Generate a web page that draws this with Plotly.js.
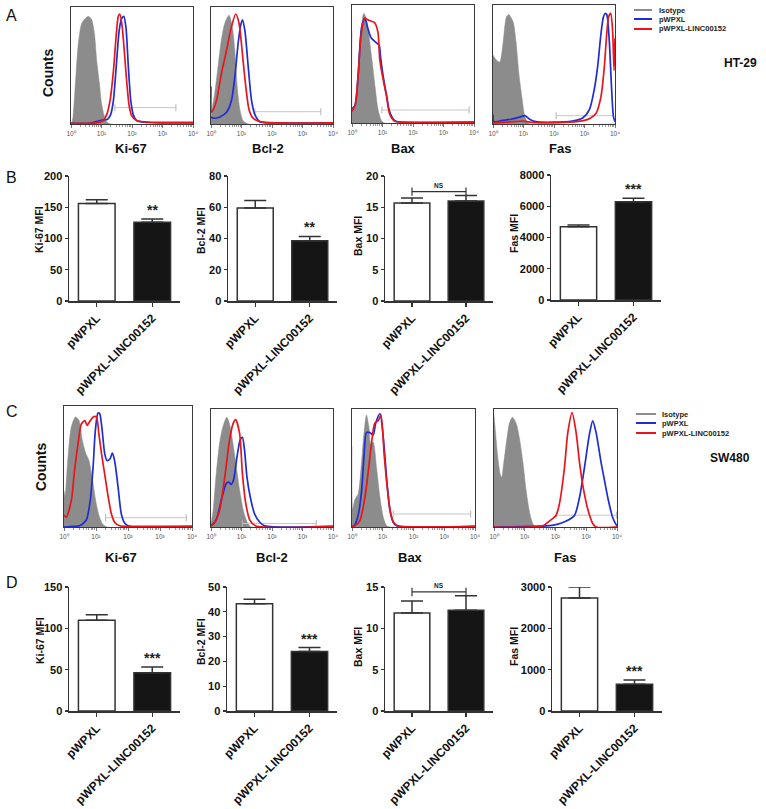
<!DOCTYPE html>
<html><head><meta charset="utf-8">
<script src="https://cdn.plot.ly/plotly-3.0.1.min.js"></script>
<style>html,body{margin:0;padding:0;background:#fff}#chart{width:766px;height:809px}</style>
</head><body><div id="chart"></div>
<script>
// ================= DATA =================
const markers = ['Ki-67', 'Bcl-2', 'Bax', 'Fas'];
const groups = ['pWPXL', 'pWPXL-LINC00152'];
const seriesNames = ['Isotype', 'pWPXL', 'pWPXL-LINC00152'];
const cellLines = ['HT-29', 'SW480'];
const decadeTicks = [0, 1, 2, 3, 4];
const decadeLabels = ['10\u2070', '10\u00B9', '10\u00B2', '10\u00B3', '10\u2074'];

// Flow histograms: [log10 fluorescence, % of max count]
// HT-29
const htKi67Iso  = [[0,0],[0.05,3],[0.13,29],[0.24,69],[0.35,86],[0.46,90],[0.57,92],[0.68,89],[0.77,77],[0.84,55],[0.93,35],[1.0,18],[1.08,8],[1.17,2],[1.3,0],[4,0]];
const htKi67Vec  = [[0,0.5],[0.6,0.5],[0.95,3],[1.2,4],[1.3,8],[1.39,20],[1.5,55],[1.58,80],[1.66,90],[1.73,92],[1.8,83],[1.88,49],[1.96,20],[2.04,8],[2.15,3],[2.4,1.5],[3,1],[4,1]];
const htKi67Linc = [[0,0.5],[0.8,1],[1.06,3],[1.17,8],[1.28,20],[1.39,45],[1.48,75],[1.55,92],[1.6,94],[1.67,85],[1.74,65],[1.83,35],[1.91,15],[1.99,7],[2.15,3],[2.6,1.5],[4,1.5]];
const htBcl2Iso  = [[0,5],[0.05,15],[0.12,26],[0.23,49],[0.34,72],[0.45,86],[0.59,93],[0.7,83],[0.78,63],[0.86,32],[0.95,12],[1.05,3],[1.22,0],[4,0]];
const htBcl2Vec  = [[0,6],[0.07,5],[0.29,6],[0.51,10],[0.67,20],[0.78,40],[0.89,69],[0.97,84],[1.03,89],[1.11,80],[1.22,49],[1.33,20],[1.44,8],[1.6,2],[2.2,1],[4,1]];
const htBcl2Linc = [[0,32],[0.02,10],[0.07,12],[0.18,20],[0.34,43],[0.51,63],[0.67,83],[0.81,94],[0.92,86],[1.03,60],[1.14,32],[1.25,12],[1.38,5],[1.6,2],[2.2,1],[4,1]];
const htBaxIso   = [[0,78],[0.02,10],[0.1,15],[0.2,40],[0.28,75],[0.35,90],[0.39,93],[0.45,90],[0.52,82],[0.6,65],[0.68,48],[0.76,30],[0.85,12],[0.95,3],[1.05,0],[4,0]];
const htBaxVec   = [[0,12],[0.1,15],[0.2,40],[0.31,80],[0.42,89],[0.52,80],[0.63,72],[0.8,68],[0.89,66],[0.94,55],[1.02,40],[1.13,24],[1.23,10],[1.4,2],[1.6,0.8],[4,0.8]];
const htBaxLinc  = [[0,10],[0.1,15],[0.2,40],[0.3,75],[0.42,89],[0.55,87],[0.74,85],[0.85,77],[0.91,54],[1.02,37],[1.13,23],[1.23,8],[1.4,1.5],[1.6,0.8],[4,0.8]];
const htFasIso   = [[0,58],[0.1,54],[0.22,52],[0.33,68],[0.44,90],[0.52,92],[0.6,89],[0.67,85],[0.76,68],[0.85,42],[0.96,20],[1.03,8],[1.11,2],[1.2,0],[4,0]];
const htFasVec   = [[0,8],[0.03,2],[0.3,3],[0.6,4],[0.9,6],[1.05,7],[1.2,4],[1.4,2],[2.0,1.5],[2.6,2.5],[2.94,5],[3.16,12],[3.32,29],[3.43,48],[3.54,76],[3.62,90],[3.68,93],[3.73,92],[3.81,71],[3.88,34],[3.95,6],[4,2]];
const htFasLinc  = [[0,1],[0.5,1.5],[1.0,2.5],[1.2,1.5],[1.6,1],[2.5,1.5],[3.0,3],[3.2,5],[3.38,9],[3.54,23],[3.65,48],[3.73,76],[3.79,90],[3.86,93],[3.92,79],[3.97,45],[4,72]];
// SW480
const swKi67Iso  = [[0,30],[0.03,25],[0.125,58],[0.23,83],[0.36,91],[0.47,88],[0.57,72],[0.68,61],[0.78,55],[0.89,39],[1.01,19],[1.11,8],[1.22,2],[1.35,0],[4,0]];
const swKi67Vec  = [[0,0],[0.3,0.5],[0.49,1],[0.7,6],[0.82,22],[0.91,50],[0.98,80],[1.06,94],[1.11,94],[1.18,83],[1.27,61],[1.34,55],[1.43,56],[1.51,61],[1.58,55],[1.69,33],[1.79,11],[1.9,3],[2.0,1],[4,0.5]];
const swKi67Linc = [[0,10],[0.07,8],[0.23,22],[0.33,47],[0.44,69],[0.54,85],[0.65,88],[0.72,84],[0.8,87],[0.91,91],[1.01,91],[1.09,77],[1.17,61],[1.27,44],[1.38,25],[1.48,11],[1.58,4],[1.74,1],[2.5,0.5],[4,0.5]];
const swBcl2Iso  = [[0,3],[0.07,14],[0.17,45],[0.28,71],[0.39,85],[0.52,93],[0.63,85],[0.72,71],[0.83,51],[0.94,31],[1.07,13],[1.21,3],[1.32,0],[4,0]];
const swBcl2Vec  = [[0,1],[0.17,6],[0.34,23],[0.5,37],[0.58,38],[0.66,36],[0.74,40],[0.85,59],[0.96,74],[1.03,76],[1.1,65],[1.18,42],[1.29,25],[1.43,11],[1.6,4],[1.76,1],[4,0.5]];
const swBcl2Linc = [[0,1],[0.1,3],[0.28,14],[0.45,42],[0.61,74],[0.73,88],[0.81,91],[0.94,79],[1.03,45],[1.14,20],[1.27,6],[1.45,1],[4,0.5]];
const swBaxIso   = [[0,68],[0.02,15],[0.09,23],[0.2,28],[0.31,55],[0.39,80],[0.47,95],[0.55,85],[0.61,70],[0.69,72],[0.8,50],[0.91,25],[1.02,8],[1.13,1],[1.25,0],[4,0]];
const swBaxVec   = [[0,0],[0.09,2],[0.2,10],[0.31,30],[0.39,60],[0.47,80],[0.58,80],[0.69,78],[0.77,88],[0.91,96],[1.02,75],[1.13,40],[1.23,15],[1.34,4],[1.45,1],[4,0.5]];
const swBaxLinc  = [[0,0],[0.09,1],[0.25,5],[0.42,25],[0.52,45],[0.63,70],[0.74,88],[0.85,90],[0.94,95],[1.05,60],[1.16,30],[1.27,10],[1.38,3],[1.5,1],[4,0.5]];
const swFasIso   = [[0,95],[0.05,80],[0.12,60],[0.2,45],[0.25,42],[0.32,55],[0.42,75],[0.5,88],[0.6,93],[0.72,88],[0.83,75],[0.94,55],[1.05,30],[1.16,12],[1.26,3],[1.37,0],[4,0]];
const swFasVec   = [[0,0],[1.7,1],[2.02,2],[2.35,5],[2.62,10],[2.78,25],[2.94,50],[3.1,78],[3.21,90],[3.32,80],[3.48,55],[3.59,40],[3.7,25],[3.86,8],[3.97,2],[4,1]];
const swFasLinc  = [[0,0],[1.59,1],[1.8,5],[2.02,10],[2.13,20],[2.29,50],[2.4,80],[2.54,97],[2.67,80],[2.78,55],[2.89,35],[3.05,15],[3.21,3],[3.32,0],[4,0]];
// Gate markers: [from log10, to log10, height %]
const htGates = [[1.44,3.44,14],[1.44,3.6,10.5],[0.98,3.84,11],[2.07,3.95,7]];
const swGates = [[1.3,3.82,7.7],[1.03,3.45,3],[1.34,3.86,11],[2.02,3.98,10]];

// MFI bar charts (per marker: [pWPXL, pWPXL-LINC00152])
const htMfi = [[156,126],[59.5,38.6],[15.7,16.0],[4690,6290]];
const htSem = [[6,5.4],[4.8,2.7],[0.8,0.9],[110,215]];
const htSig = ['**','**','NS','***'];
const htYTicks = [[0,50,100,150,200],[0,20,40,60,80],[0,5,10,15,20],[0,2000,4000,6000,8000]];
const swMfi = [[109.7,46.4],[43.2,24.0],[11.85,12.2],[2733,647]];
const swSem = [[6.8,6.8],[1.9,1.6],[1.45,1.75],[267,105]];
const swSig = ['***','***','NS','***'];
const swYTicks = [[0,50,100,150],[0,10,20,30,40,50],[0,5,10,15],[0,1000,2000,3000]];
const nsLevels = [17.5, 14.4];

// ================= LAYOUT / DRAWING =================
const W = 766, H = 809;
const px = x => x / W, py = y => 1 - y / H;
const FONT = 'Liberation Sans, Arial, Helvetica, sans-serif';
const COL_ISO = '#8c8c8c', COL_VEC = '#1e2ed2', COL_LINC = '#e8161c';

const traces = [];
const layout = {
  width: W, height: H, margin: {l: 0, r: 0, t: 0, b: 0}, showlegend: false,
  paper_bgcolor: '#fff', plot_bgcolor: 'rgba(0,0,0,0)',
  font: {family: FONT, color: '#111'},
  annotations: [], shapes: []
};

const minorVals = [];
for (let d = 0; d < 4; d++) for (let k = 2; k < 10; k++) minorVals.push(d + Math.log10(k));

function addHist(idx, box, curves, gate) {
  const xa = 'x' + idx, ya = 'y' + idx;
  layout['xaxis' + idx] = {
    domain: [px(box[0]), px(box[1])], anchor: ya, range: [0, 4],
    tickmode: 'array', tickvals: decadeTicks, ticktext: decadeLabels,
    ticks: 'outside', ticklen: 3, tickwidth: 1, tickcolor: '#777',
    tickfont: {size: 6.5, color: '#555', family: FONT},
    showline: true, mirror: true, linecolor: '#3a3a3a', linewidth: 1,
    showgrid: false, zeroline: false, layer: 'below traces', fixedrange: true,
    minor: {tickmode: 'array', tickvals: minorVals, ticks: 'outside', ticklen: 1.5, tickcolor: '#999', showgrid: false}
  };
  layout['yaxis' + idx] = {
    domain: [py(box[3]), py(box[2])], anchor: xa, range: [0, 100],
    showticklabels: false, ticks: '', showline: true, mirror: true,
    linecolor: '#3a3a3a', linewidth: 1, showgrid: false, zeroline: false,
    layer: 'below traces', fixedrange: true
  };
  const [iso, vec, linc] = curves;
  traces.push({type: 'scatter', mode: 'lines', xaxis: xa, yaxis: ya, name: seriesNames[0],
    x: iso.map(p => p[0]), y: iso.map(p => p[1]), fill: 'tozeroy', fillcolor: COL_ISO,
    line: {color: COL_ISO, width: 0.5, shape: 'spline', smoothing: 0.7}, hoverinfo: 'skip'});
  traces.push({type: 'scatter', mode: 'lines+markers', xaxis: xa, yaxis: ya,
    x: [gate[0], gate[1]], y: [gate[2], gate[2]],
    line: {color: '#c6c6c6', width: 1},
    marker: {symbol: 'line-ns-open', size: 5, color: '#b5b5b5', line: {width: 1, color: '#b5b5b5'}}, hoverinfo: 'skip'});
  traces.push({type: 'scatter', mode: 'lines', xaxis: xa, yaxis: ya, name: seriesNames[1],
    x: vec.map(p => p[0]), y: vec.map(p => p[1]),
    line: {color: COL_VEC, width: 1.7, shape: 'spline', smoothing: 0.7}, hoverinfo: 'skip'});
  traces.push({type: 'scatter', mode: 'lines', xaxis: xa, yaxis: ya, name: seriesNames[2],
    x: linc.map(p => p[0]), y: linc.map(p => p[1]),
    line: {color: COL_LINC, width: 1.7, shape: 'spline', smoothing: 0.7}, hoverinfo: 'skip'});
}

function paperText(x, y, text, font, extra) {
  layout.annotations.push(Object.assign({xref: 'paper', yref: 'paper', x: px(x), y: py(y), text: text,
    showarrow: false, xanchor: 'center', yanchor: 'middle', font: Object.assign({family: FONT, color: '#111'}, font)}, extra || {}));
}

function addBar(idx, box, mfi, sem, ticks, sig, title, titlePos, nsLevel) {
  const xa = 'x' + idx, ya = 'y' + idx;
  layout['xaxis' + idx] = {
    domain: [px(box[0]), px(box[1])], anchor: ya, type: 'category', range: [-0.5, 1.5],
    showline: true, linecolor: '#333', linewidth: 1.5,
    ticks: 'outside', ticklen: 4, tickwidth: 1.2, tickcolor: '#333', tickangle: -45,
    tickfont: {size: 12, weight: 'bold', color: '#111', family: FONT},
    showgrid: false, zeroline: false, fixedrange: true
  };
  layout['yaxis' + idx] = {
    domain: [py(box[3]), py(box[2])], anchor: xa, range: [0, ticks[ticks.length - 1]],
    tickmode: 'array', tickvals: ticks, showline: true, linecolor: '#333', linewidth: 1.5,
    ticks: 'outside', ticklen: 3, tickwidth: 1.2, tickcolor: '#333',
    tickfont: {size: 11, weight: 'bold', color: '#111', family: FONT},
    showgrid: false, zeroline: false, fixedrange: true
  };
  paperText(titlePos[0], titlePos[1], title, {size: 10.5, weight: 'bold'}, {textangle: -90});
  traces.push({type: 'bar', xaxis: xa, yaxis: ya, x: groups, y: mfi, width: 0.66,
    marker: {color: ['#ffffff', '#151515'], line: {color: '#333', width: 1.5}},
    error_y: {type: 'data', symmetric: false, array: sem, arrayminus: [0, 0],
      color: '#333', thickness: 1.5, width: 11}, hoverinfo: 'skip'});
  if (sig === 'NS') {
    traces.push({type: 'scatter', mode: 'lines+markers', xaxis: xa, yaxis: ya,
      x: groups, y: [nsLevel, nsLevel], line: {color: '#333', width: 1.2},
      marker: {symbol: 'line-ns-open', size: 6, color: '#333', line: {width: 1.2, color: '#333'}}, hoverinfo: 'skip'});
    layout.annotations.push({xref: xa, yref: ya, x: 0.5, y: nsLevel, text: 'NS', showarrow: false,
      yanchor: 'bottom', yshift: 1, font: {size: 6.5, weight: 'bold', color: '#222', family: FONT}});
  } else {
    layout.annotations.push({xref: xa, yref: ya, x: 1, y: mfi[1] + sem[1], text: sig, showarrow: false,
      yanchor: 'bottom', yshift: -1, font: {size: 14, weight: 'bold', color: '#222', family: FONT}});
  }
}

// positions in pixels [left, right, top, bottom]
const histBoxesA = [[71,193,7,124],[211,333,7,124],[352,474,5,123],[493,615,5,124]];
const histBoxesC = [[64,192,406,527],[211,333,409,527],[352,475,409,527],[494,617,409,527]];
const barBoxesB = [[69,180,176,301],[228,337,176,301],[385,493,176,301],[551,661,175,300]];
const barBoxesD = [[69,180,587,711],[227,337,587,711],[385,493,587,711],[552,662,587,711]];
const yTitlePosB = [[39,230],[201,230],[358,236],[514,234]];
const yTitlePosD = [[40,641],[201,641],[358,647],[514,647]];

const htCurves = [[htKi67Iso,htKi67Vec,htKi67Linc],[htBcl2Iso,htBcl2Vec,htBcl2Linc],[htBaxIso,htBaxVec,htBaxLinc],[htFasIso,htFasVec,htFasLinc]];
const swCurves = [[swKi67Iso,swKi67Vec,swKi67Linc],[swBcl2Iso,swBcl2Vec,swBcl2Linc],[swBaxIso,swBaxVec,swBaxLinc],[swFasIso,swFasVec,swFasLinc]];

for (let i = 0; i < 4; i++) {
  addHist(1 + i, histBoxesA[i], htCurves[i], htGates[i]);
  addHist(5 + i, histBoxesC[i], swCurves[i], swGates[i]);
  addBar(9 + i, barBoxesB[i], htMfi[i], htSem[i], htYTicks[i], htSig[i], markers[i] + ' MFI', yTitlePosB[i], nsLevels[0]);
  addBar(13 + i, barBoxesD[i], swMfi[i], swSem[i], swYTicks[i], swSig[i], markers[i] + ' MFI', yTitlePosD[i], nsLevels[1]);
}

// panel letters
paperText(12, 15, 'A', {size: 16});
paperText(11, 177, 'B', {size: 16});
paperText(12, 411, 'C', {size: 16});
paperText(12, 582, 'D', {size: 16});
// Counts
paperText(48, 73, 'Counts', {size: 14, weight: 'bold'}, {textangle: -90});
paperText(41, 467, 'Counts', {size: 14, weight: 'bold'}, {textangle: -90});
// histogram marker labels
const labelXA = [131, 268, 403, 560], labelXC = [121, 272, 410, 565];
for (let i = 0; i < 4; i++) {
  paperText(labelXA[i], 148, markers[i], {size: 13, weight: 'bold'});
  paperText(labelXC[i], 557, markers[i], {size: 13, weight: 'bold'});
}
// legends
const legendCols = [COL_ISO, COL_VEC, COL_LINC];
function addLegend(x0, x1, tx, rows) {
  for (let k = 0; k < 3; k++) {
    layout.shapes.push({type: 'line', xref: 'paper', yref: 'paper', x0: px(x0), x1: px(x1),
      y0: py(rows[k]), y1: py(rows[k]), line: {color: legendCols[k], width: 2}});
    paperText(tx, rows[k], seriesNames[k], {size: 7.5, weight: 'bold', color: '#222'}, {xanchor: 'left'});
  }
}
addLegend(634, 652, 657, [10, 19, 29]);
addLegend(636, 656, 660, [414, 423, 433]);
paperText(740, 63, cellLines[0], {size: 12, weight: 'bold'});
paperText(730, 458, cellLines[1], {size: 12, weight: 'bold'});

Plotly.newPlot('chart', traces, layout, {staticPlot: true, displayModeBar: false});
</script></body></html>
